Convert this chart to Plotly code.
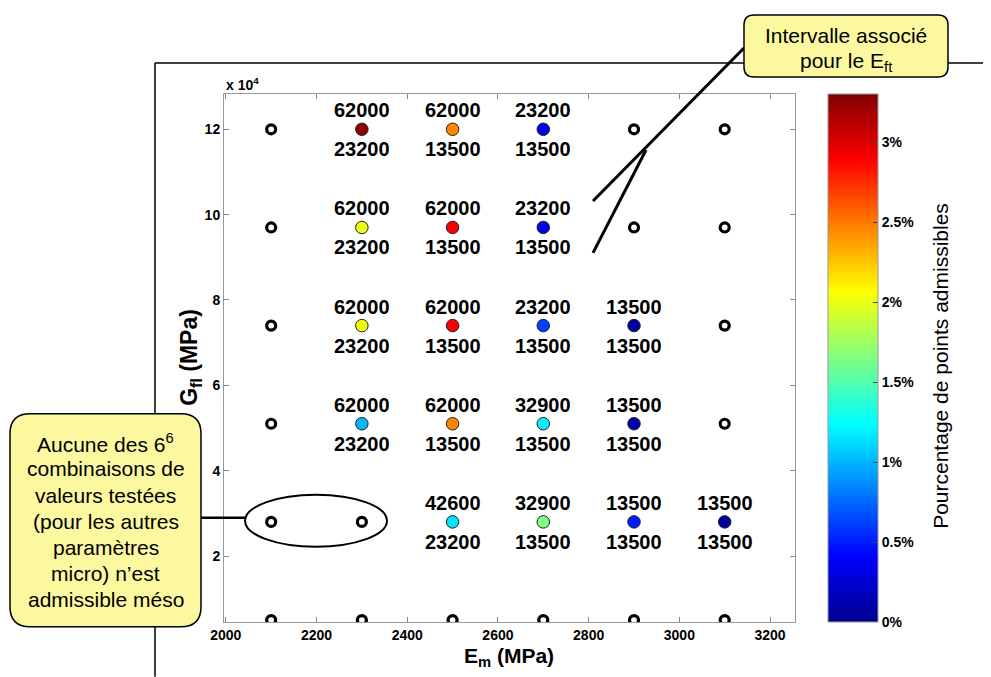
import plotly.graph_objects as go

# Points retenus (couleur = pourcentage de points admissibles)
em_pts = [2300, 2500, 2700,
          2300, 2500, 2700,
          2300, 2500, 2700, 2900,
          2300, 2500, 2700, 2900,
          2500, 2700, 2900, 3100]
gf_pts = [120000, 120000, 120000,
          97000, 97000, 97000,
          74000, 74000, 74000, 74000,
          51000, 51000, 51000, 51000,
          28000, 28000, 28000, 28000]
pct = [3.25, 2.45, 0.35,
       2.0, 2.9, 0.35,
       2.0, 2.9, 0.62, 0.05,
       1.0, 2.45, 1.2, 0.1,
       1.15, 1.65, 0.5, 0.05]
top_lbl = ["62000", "62000", "23200",
           "62000", "62000", "23200",
           "62000", "62000", "23200", "13500",
           "62000", "62000", "32900", "13500",
           "42600", "32900", "13500", "13500"]
bot_lbl = ["23200", "13500", "13500",
           "23200", "13500", "13500",
           "23200", "13500", "13500", "13500",
           "23200", "13500", "13500", "13500",
           "23200", "13500", "13500", "13500"]

# Combinaisons non admissibles (cercles vides)
em_empty = [2100, 2900, 3100, 2100, 2900, 3100, 2100, 3100, 2100, 3100,
            2100, 2300, 2100, 2300, 2500, 2700, 2900, 3100]
gf_empty = [120000, 120000, 120000, 97000, 97000, 97000, 74000, 74000, 51000, 51000,
            28000, 28000, 5000, 5000, 5000, 5000, 5000, 5000]

x_ticks = [2000, 2200, 2400, 2600, 2800, 3000, 3200]
y_ticks = [20000, 40000, 60000, 80000, 100000, 120000]
y_ticktext = ["2", "4", "6", "8", "10", "12"]
cb_ticks = [0, 0.5, 1, 1.5, 2, 2.5, 3]
cb_ticktext = ["0%", "0.5%", "1%", "1.5%", "2%", "2.5%", "3%"]

box_left_lines = ["Aucune des 6<sup>6</sup>", "combinaisons de", "valeurs testées",
                  "(pour les autres", "paramètres", "micro) n’est", "admissible méso"]
box_top_lines = ["Intervalle associé", "pour le E<sub>ft</sub>"]

jet = [[0, "#00008F"], [0.125, "#0000FF"], [0.375, "#00FFFF"],
       [0.625, "#FFFF00"], [0.875, "#FF0000"], [1, "#800000"]]

FONT = "Arial, Liberation Sans, Helvetica, sans-serif"
OFF = 8  # marge du body html
W, H = 991 - OFF, 677 - OFF
# zone de tracé en pixels écran
L, R, T, B = 224, 795, 94, 622.3


def px(x):
    return (x - L) / (R - L)


def py(y):
    return (B - y) / (B - T)


def rrect(x0, y0, x1, y1, r):
    # rectangle arrondi (coordonnées paper) à partir des coins en pixels
    rx = r / (R - L)
    ry = r / (B - T)
    a, b, c, d = px(x0), px(x1), py(y0), py(y1)
    return (f"M {a + rx},{c} L {b - rx},{c} Q {b},{c} {b},{c - ry} "
            f"L {b},{d + ry} Q {b},{d} {b - rx},{d} "
            f"L {a + rx},{d} Q {a},{d} {a},{d + ry} "
            f"L {a},{c - ry} Q {a},{c} {a + rx},{c} Z")


fig = go.Figure()

fig.add_trace(go.Scatter(
    x=em_empty, y=gf_empty, mode="markers",
    marker=dict(size=9, color="white", line=dict(color="black", width=3.2)),
    showlegend=False, hoverinfo="skip"))

fig.add_trace(go.Scatter(
    x=em_pts, y=gf_pts, mode="markers",
    marker=dict(size=12.5, color=pct, colorscale=jet, cmin=0, cmax=3.3,
                line=dict(color="#222", width=1), showscale=True,
                colorbar=dict(x=px(828), xanchor="left", y=0.5, len=1, lenmode="fraction",
                              xpad=0, ypad=0,
                              thickness=50, thicknessmode="pixels",
                              outlinecolor="#999", outlinewidth=1,
                              ticks="inside", ticklen=5, tickcolor="#444",
                              tickvals=cb_ticks, ticktext=cb_ticktext,
                              tickfont=dict(family=FONT, size=14, color="black", weight="bold"))),
    showlegend=False, hovertemplate="%{x}, %{y}: %{marker.color}%<extra></extra>"))

annotations = []
for x, y, t, b in zip(em_pts, gf_pts, top_lbl, bot_lbl):
    annotations.append(dict(x=x, y=y, text=t, showarrow=False, yshift=19,
                            font=dict(family=FONT, size=20, color="black", weight="bold")))
    annotations.append(dict(x=x, y=y, text=b, showarrow=False, yshift=-20,
                            font=dict(family=FONT, size=20, color="black", weight="bold")))

for i, line in enumerate(box_left_lines):
    annotations.append(dict(xref="paper", yref="paper", x=px(105.5), y=py(443 + i * 26.2),
                            xanchor="center", yanchor="middle", text=line, showarrow=False,
                            font=dict(family=FONT, size=21, color="black")))
for i, line in enumerate(box_top_lines):
    annotations.append(dict(xref="paper", yref="paper", x=px(846), y=py(35 + i * 27),
                            xanchor="center", yanchor="middle", text=line, showarrow=False,
                            font=dict(family=FONT, size=21, color="black")))

annotations += [
    dict(xref="paper", yref="paper", x=px(224), y=py(84), xanchor="left", yanchor="middle",
         text="x 10<sup>4</sup>", showarrow=False,
         font=dict(family=FONT, size=14, color="black", weight="bold")),
    dict(xref="paper", yref="paper", x=px(509), y=py(657), xanchor="center", yanchor="middle",
         text="E<sub>m</sub> (MPa)", showarrow=False,
         font=dict(family=FONT, size=21, color="black", weight="bold")),
    dict(xref="paper", yref="paper", x=px(191), y=py(358), xanchor="center", yanchor="middle",
         text="G<sub>fl</sub> (MPa)", showarrow=False, textangle=-90,
         font=dict(family=FONT, size=23, color="black", weight="bold")),
    dict(xref="paper", yref="paper", x=px(941), y=py(366), xanchor="center", yanchor="middle",
         text="Pourcentage de points admissibles", showarrow=False, textangle=-90,
         font=dict(family=FONT, size=21, color="black")),
]

shapes = [
    # cadre de la diapositive
    dict(type="line", xref="paper", yref="paper", x0=px(155), y0=py(63), x1=px(991), y1=py(63),
         line=dict(color="black", width=1.5)),
    dict(type="line", xref="paper", yref="paper", x0=px(155), y0=py(63), x1=px(155), y1=py(677),
         line=dict(color="black", width=1.5)),
    # bulle Intervalle
    dict(type="line", xref="paper", yref="paper", x0=px(744), y0=py(48), x1=px(593), y1=py(201),
         line=dict(color="black", width=3)),
    dict(type="line", xref="paper", yref="paper", x0=px(646), y0=py(150), x1=px(593), y1=py(253),
         line=dict(color="black", width=3)),
    dict(type="path", xref="paper", yref="paper", path=rrect(744, 15, 948, 77, 10),
         fillcolor="#FCF8A0", line=dict(color="black", width=1.5)),
    # bulle Aucune
    dict(type="line", xref="paper", yref="paper", x0=px(201), y0=py(518), x1=px(245), y1=py(518),
         line=dict(color="black", width=2.5)),
    dict(type="circle", xref="paper", yref="paper", x0=px(245), y0=py(495), x1=px(387), y1=py(547),
         line=dict(color="black", width=2)),
    dict(type="path", xref="paper", yref="paper", path=rrect(10, 414, 201, 627, 20),
         fillcolor="#FCF8A0", line=dict(color="black", width=1.5)),
]

fig.update_layout(
    width=W, height=H,
    margin=dict(l=L - OFF, r=W - (R - OFF), t=T - OFF, b=H - (B - OFF), autoexpand=False),
    paper_bgcolor="white", plot_bgcolor="white",
    showlegend=False,
    annotations=annotations, shapes=shapes,
    xaxis=dict(range=[1996, 3255], tickvals=x_ticks, ticks="inside", ticklen=5,
               tickcolor="#888", showline=True, linecolor="#999", linewidth=1, mirror="ticks",
               showgrid=False, zeroline=False,
               tickfont=dict(family=FONT, size=14, color="black", weight="bold")),
    yaxis=dict(range=[4540, 128270], tickvals=y_ticks, ticktext=y_ticktext, ticks="inside",
               ticklen=5, tickcolor="#888", showline=True, linecolor="#999", linewidth=1,
               mirror="ticks", showgrid=False, zeroline=False,
               tickfont=dict(family=FONT, size=14, color="black", weight="bold")),
)

fig.write_html("out.html")
